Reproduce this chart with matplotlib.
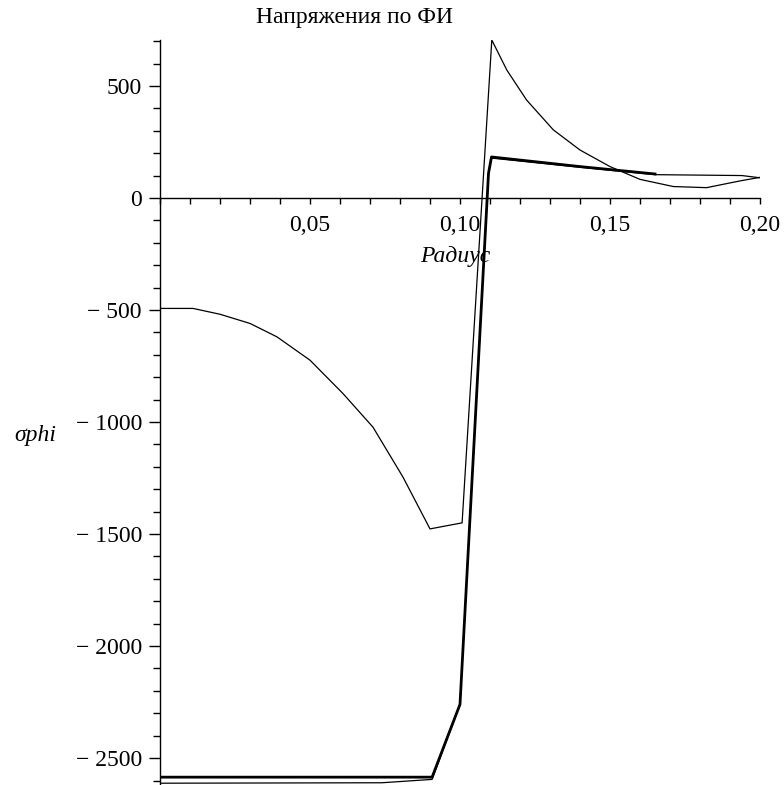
import matplotlib
matplotlib.use("Agg")
import matplotlib.pyplot as plt
from matplotlib.ticker import MultipleLocator, FuncFormatter

plt.rcParams['font.family'] = ['Liberation Serif', 'DejaVu Serif']

# radius / stress values
r_a = [0, 0.011, 0.02, 0.03, 0.039, 0.05, 0.061, 0.071, 0.081, 0.09, 0.1007,
       0.1106, 0.1156, 0.1222, 0.1311, 0.14, 0.15, 0.16, 0.1711, 0.1822,
       0.1933, 0.20]
s_a = [-493, -493, -519, -560, -620, -724, -873, -1023, -1246, -1477, -1450,
       705, 571, 437, 304, 214, 140, 83, 51, 46, 76, 92]

r_b = [0, 0.0907, 0.1, 0.1095, 0.1105, 0.14, 0.165]
s_b = [-2585, -2585, -2260, 110, 183, 140, 107]

r_c = [0, 0.074, 0.0907, 0.1, 0.1095, 0.1105, 0.14, 0.165, 0.194, 0.2]
s_c = [-2612, -2610, -2595, -2260, 105, 178, 137, 104, 100, 90]

title = "Напряжения по ФИ"
xlabel = "Радиус"
ylabel = "σphi"

fig = plt.figure(figsize=(7.84, 7.85), dpi=100)
ax = fig.add_axes([160/784, 0.0, 600/784, 745/785])

ax.plot(r_a, s_a, color='black', lw=0.9)
ax.plot(r_c, s_c, color='black', lw=0.9)
ax.plot(r_b, s_b, color='black', lw=2.0)

ax.set_xlim(0, 0.2)
ax.set_ylim(-2620, 705)

ax.spines['top'].set_visible(False)
ax.spines['right'].set_visible(False)
ax.spines['bottom'].set_position(('data', 0))
for s in ('left', 'bottom'):
    ax.spines[s].set_linewidth(1.0)

ax.xaxis.set_major_locator(MultipleLocator(0.05))
ax.xaxis.set_minor_locator(MultipleLocator(0.01))
ax.yaxis.set_major_locator(MultipleLocator(500))
ax.yaxis.set_minor_locator(MultipleLocator(100))

def xfmt(v, pos):
    if abs(v) < 1e-9:
        return ""
    return ("%.2f" % v).replace(".", ",")

def yfmt(v, pos):
    if v < 0:
        return "\u2212 " + "%d" % abs(v)
    return "%d" % v

ax.xaxis.set_major_formatter(FuncFormatter(xfmt))
ax.yaxis.set_major_formatter(FuncFormatter(yfmt))

ax.tick_params(axis='x', which='both', direction='out', length=4, width=1,
               labelsize=17, pad=8)
ax.tick_params(axis='y', which='major', direction='out', length=8, width=1,
               labelsize=17, pad=5)
ax.tick_params(axis='y', which='minor', direction='out', length=5, width=1)

fig.text(355/784, 1 - 18/785, title, ha='center', va='center', fontsize=17)
fig.text(455/784, 1 - 257/785, xlabel, ha='center', va='center', fontsize=17,
         style='italic')
fig.text(35/784, 1 - 435/785, ylabel, ha='center', va='center', fontsize=17,
         style='italic')

fig.savefig("out.png", dpi=100)
